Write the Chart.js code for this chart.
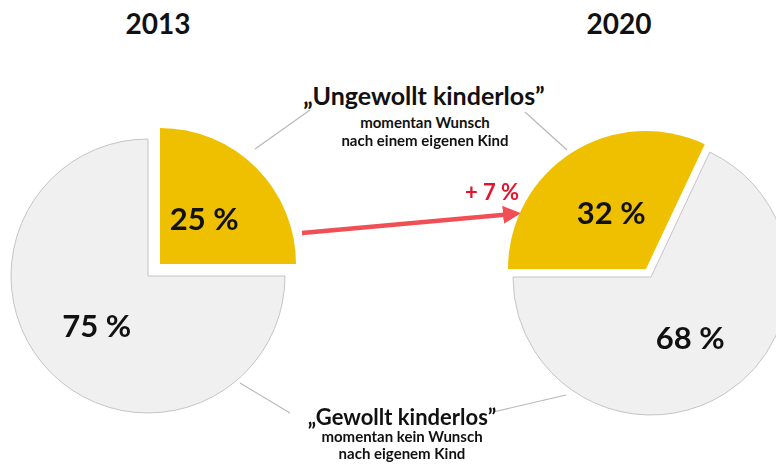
<!DOCTYPE html>
<html>
<head>
<meta charset="utf-8">
<script src="https://cdn.jsdelivr.net/npm/chart.js@4/dist/chart.umd.min.js"></script>
<style>
  body { margin: 0; width: 776px; height: 464px; overflow: hidden; background: #fff; position: relative; font-family: Lato, "Open Sans", sans-serif; }
  .box { position: absolute; width: 300px; height: 300px; }
  .t { position: absolute; transform: translate(-50%, -50%); white-space: nowrap; font-weight: bold; color: #111; }
  svg { position: absolute; left: 0; top: 0; }
</style>
</head>
<body>
<svg width="776" height="464">
  <defs>
    <marker id="head" markerWidth="4" markerHeight="4" refX="2" refY="2" orient="auto">
      <path d="M0,0 L4,2 L0,4 z" fill="#f04f55"/>
    </marker>
  </defs>
  <g stroke="#b8b8b8" stroke-width="1.2">
    <line x1="255" y1="149" x2="310" y2="110"/>
    <line x1="525" y1="112" x2="567" y2="150"/>
    <line x1="240" y1="383" x2="290" y2="413"/>
    <line x1="493" y1="412" x2="566" y2="395"/>
  </g>
  <line x1="302" y1="233" x2="512" y2="214" stroke="#f04f55" stroke-width="4.5" marker-end="url(#head)"/>
</svg>

<!-- je Jahr: grauer Teil und herausgezogenes gelbes Segment -->
<div class="box" style="left:-2px; top:126px;"><canvas id="rest2013"></canvas></div>
<div class="box" style="left:10px; top:114px;"><canvas id="part2013"></canvas></div>
<div class="box" style="left:501px; top:127px;"><canvas id="rest2020"></canvas></div>
<div class="box" style="left:496px; top:119px;"><canvas id="part2020"></canvas></div>

<div class="t" id="year0" style="left:158px; top:23px; font-size:28px;"></div>
<div class="t" id="year1" style="left:619px; top:23px; font-size:28px;"></div>

<div class="t" id="cat0" style="left:424px; top:95px; font-size:25px;"></div>
<div class="t" id="sub0a" style="left:425px; top:122px; font-size:15px;"></div>
<div class="t" id="sub0b" style="left:425px; top:140px; font-size:15px;"></div>

<div class="t" id="cat1" style="left:402px; top:416px; font-size:22px;"></div>
<div class="t" id="sub1a" style="left:402px; top:436px; font-size:15px;"></div>
<div class="t" id="sub1b" style="left:402px; top:453px; font-size:15px;"></div>

<div class="t" id="change" style="left:492px; top:191px; font-size:22px; color:#e5142b;"></div>

<script>
// Daten
const years = ['2013', '2020'];
const categories = ['„Ungewollt kinderlos”', '„Gewollt kinderlos”'];
const subtitles = [
    ['momentan Wunsch', 'nach einem eigenen Kind'],
    ['momentan kein Wunsch', 'nach eigenem Kind']
];
const shares2013 = [25, 75];
const shares2020 = [32, 68];
const changeLabel = '+ 7 %';

const colors = ['#efc000', '#f0f0f0'];
const borders = ['#efc000', '#c4c4c4'];

// Texte setzen
document.getElementById('year0').textContent = years[0];
document.getElementById('year1').textContent = years[1];
document.getElementById('cat0').textContent = categories[0];
document.getElementById('cat1').textContent = categories[1];
document.getElementById('sub0a').textContent = subtitles[0][0];
document.getElementById('sub0b').textContent = subtitles[0][1];
document.getElementById('sub1a').textContent = subtitles[1][0];
document.getElementById('sub1b').textContent = subtitles[1][1];
document.getElementById('change').textContent = changeLabel;

// Prozentwert in das sichtbare Segment schreiben
const percentLabels = {
    id: 'percentLabels',
    afterDatasetsDraw(chart, args, opts) {
        const ctx = chart.ctx;
        const i = opts.index;
        const arc = chart.getDatasetMeta(0).data[i];
        const value = chart.data.datasets[0].data[i];
        const mid = (arc.startAngle + arc.endAngle) / 2;
        const r = arc.outerRadius * opts.factor;
        ctx.save();
        ctx.font = 'bold 31px Lato, "Open Sans", sans-serif';
        ctx.fillStyle = '#111';
        ctx.textAlign = 'center';
        ctx.textBaseline = 'middle';
        ctx.fillText(value + ' %', arc.x + Math.cos(mid) * r, arc.y + Math.sin(mid) * r);
        ctx.restore();
    }
};

// show = Index des gezeichneten Segments, das andere bleibt unsichtbar
function makePie(id, values, rotation, show, radius, factor) {
    const bg = colors.map((c, i) => i === show ? c : 'rgba(0,0,0,0)');
    const bd = borders.map((c, i) => i === show ? c : 'rgba(0,0,0,0)');
    return new Chart(document.getElementById(id), {
        type: 'pie',
        data: {
            labels: categories,
            datasets: [{
                data: values,
                backgroundColor: bg,
                borderColor: bd,
                borderWidth: show === 0 ? 0 : 1
            }]
        },
        options: {
            responsive: true,
            maintainAspectRatio: false,
            animation: false,
            rotation: rotation,
            radius: radius,
            layout: { padding: 0 },
            events: [],
            plugins: {
                legend: { display: false },
                tooltip: { enabled: false },
                percentLabels: { index: show, factor: factor }
            }
        },
        plugins: [percentLabels]
    });
}

makePie('rest2013', shares2013, 0, 1, 137, 0.53);
makePie('part2013', shares2013, 0, 0, 136, 0.46);
makePie('rest2020', shares2020, 270, 1, 138, 0.53);
makePie('part2020', shares2020, 270, 0, 138, 0.47);
</script>
</body>
</html>
